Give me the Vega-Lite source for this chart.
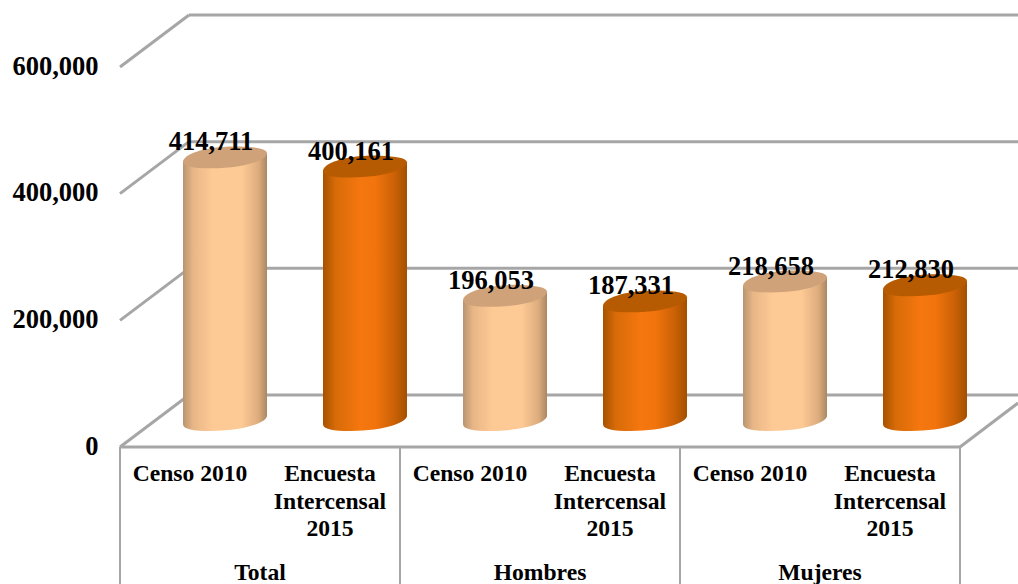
{
"$schema":"https://vega.github.io/schema/vega-lite/v6.json",
"autosize":"none","padding":{"left":120,"top":0,"right":0,"bottom":0},
"width":898,"height":584,"background":"white",
"config":{"view":{"stroke":null},"text":{"font":"Liberation Serif"}},
"datasets":{
"d":[
{"key":"Total Censo","group":"Total","serie":"Censo 2010","value":414711},
{"key":"Total Encuesta","group":"Total","serie":"Encuesta\nIntercensal\n2015","value":400161},
{"key":"Hombres Censo","group":"Hombres","serie":"Censo 2010","value":196053},
{"key":"Hombres Encuesta","group":"Hombres","serie":"Encuesta\nIntercensal\n2015","value":187331},
{"key":"Mujeres Censo","group":"Mujeres","serie":"Censo 2010","value":218658},
{"key":"Mujeres Encuesta","group":"Mujeres","serie":"Encuesta\nIntercensal\n2015","value":212830}],
"t":[{"v":0},{"v":200000},{"v":400000},{"v":600000}]
},
"layer":[
{"data":{"name":"t"},"mark":{"type":"rule","color":"#A6A6A6","strokeWidth":3,"yOffset":-52,"y2Offset":-52},
 "encoding":{"y":{"field":"v","type":"quantitative","scale":{"domain":[0,600000],"range":[447,67],"nice":false,"zero":false},
   "axis":{"values":[0,200000,400000,600000],"format":",d","domain":false,"ticks":false,"grid":false,"title":null,"labelPadding":22,"labelOffset":-1,"labelFont":"Liberation Serif","labelFontWeight":"bold","labelFontSize":26.5,"labelColor":"black"}},
  "x":{"value":69},"x2":{"value":898}}},
{"data":{"name":"t"},"mark":{"type":"rule","color":"#A6A6A6","strokeWidth":3,"y2Offset":-52},
 "encoding":{"y":{"field":"v","type":"quantitative"},"y2":{"field":"v"},"x":{"value":0},"x2":{"value":69}}},
{"data":{"values":[{"v":0}]},"mark":{"type":"rule","color":"#A6A6A6","strokeWidth":3,"y2Offset":-44},
 "encoding":{"y":{"field":"v","type":"quantitative"},"y2":{"field":"v"},"x":{"value":840},"x2":{"value":898}}},
{"data":{"values":[{"v":0}]},"mark":{"type":"rule","color":"#A6A6A6","strokeWidth":3},
 "encoding":{"y":{"field":"v","type":"quantitative"},"x":{"value":0},"x2":{"value":840}}},
{"data":{"values":[{"k":"Total Censo"},{"k":"Hombres Censo"},{"k":"Mujeres Censo"}]},"mark":{"type":"rule","color":"#A6A6A6","strokeWidth":2},
 "encoding":{"x":{"field":"k","type":"nominal","bandPosition":0,"axis":null,"scale":{"type":"band","domain":["Total Censo","Total Encuesta","Hombres Censo","Hombres Encuesta","Mujeres Censo","Mujeres Encuesta"],"range":[0,840],"padding":0}},"y":{"value":447},"y2":{"value":584}}},
{"data":{"values":[{"k":"Mujeres Encuesta"}]},"mark":{"type":"rule","color":"#A6A6A6","strokeWidth":2},
 "encoding":{"x":{"field":"k","type":"nominal","bandPosition":1,"axis":null},"y":{"value":447},"y2":{"value":584}}},

{"data":{"name":"d"},"transform":[{"filter":"datum.serie=='Censo 2010'"}],
 "layer":[
 {"mark":{"type":"bar","size":84,"xOffset":35,"yOffset":-22,"y2Offset":-32,
   "fill":{"gradient":"linear","x1":0,"y1":0,"x2":1,"y2":0,"stops":[{"offset":0,"color":"#B8946F"},{"offset":0.12,"color":"#E8B687"},{"offset":0.35,"color":"#FDC994"},{"offset":0.7,"color":"#FDC994"},{"offset":0.9,"color":"#DDAC7E"},{"offset":1,"color":"#A98762"}]}},
  "encoding":{"x":{"field":"key","type":"nominal","axis":null},"y":{"field":"value","type":"quantitative","stack":null},"y2":{"datum":0}}},
 {"mark":{"type":"point","shape":"M -1 0.1 C -1 -0.06 -0.5 -0.28 0.35 -0.26 C 0.75 -0.25 1 -0.2 1 -0.1 C 1 0.05 0.5 0.26 -0.35 0.26 C -0.75 0.26 -1 0.22 -1 0.1 Z M -1 -0.14 L 1 -0.14 L 1 -0.1 L -1 0.1 Z","filled":true,"size":7056,"opacity":1,"xOffset":35,"yOffset":-27,
   "fill":{"gradient":"linear","x1":0,"y1":0,"x2":1,"y2":0,"stops":[{"offset":0,"color":"#B8946F"},{"offset":0.12,"color":"#E8B687"},{"offset":0.35,"color":"#FDC994"},{"offset":0.7,"color":"#FDC994"},{"offset":0.9,"color":"#DDAC7E"},{"offset":1,"color":"#A98762"}]}},
  "encoding":{"x":{"field":"key","type":"nominal","axis":null},"y":{"datum":0,"type":"quantitative"}}},
 {"mark":{"type":"point","shape":"M -1 0.1 L 1 -0.1 L 1 0.14 L -1 0.14 Z","filled":true,"size":7056,"opacity":1,"xOffset":35,"yOffset":-27,
   "fill":{"gradient":"linear","x1":0,"y1":0,"x2":1,"y2":0,"stops":[{"offset":0,"color":"#B8946F"},{"offset":0.12,"color":"#E8B687"},{"offset":0.35,"color":"#FDC994"},{"offset":0.7,"color":"#FDC994"},{"offset":0.9,"color":"#DDAC7E"},{"offset":1,"color":"#A98762"}]}},
  "encoding":{"x":{"field":"key","type":"nominal","axis":null},"y":{"field":"value","type":"quantitative"}}},
 {"mark":{"type":"point","shape":"M -1 0.1 C -1 -0.06 -0.5 -0.28 0.35 -0.26 C 0.75 -0.25 1 -0.2 1 -0.1 C 1 0.05 0.5 0.26 -0.35 0.26 C -0.75 0.26 -1 0.22 -1 0.1 Z","filled":true,"size":7056,"opacity":1,"xOffset":35,"yOffset":-27,"fill":"#CFA27A"},
  "encoding":{"x":{"field":"key","type":"nominal","axis":null},"y":{"field":"value","type":"quantitative"}}}
 ]},
{"data":{"name":"d"},"transform":[{"filter":"datum.serie!='Censo 2010'"}],
 "layer":[
 {"mark":{"type":"bar","size":84,"xOffset":35,"yOffset":-22,"y2Offset":-32,
   "fill":{"gradient":"linear","x1":0,"y1":0,"x2":1,"y2":0,"stops":[{"offset":0,"color":"#A55200"},{"offset":0.15,"color":"#D86B08"},{"offset":0.45,"color":"#F5770F"},{"offset":0.62,"color":"#F2740D"},{"offset":0.85,"color":"#CB6106"},{"offset":1,"color":"#A35000"}]}},
  "encoding":{"x":{"field":"key","type":"nominal","axis":null},"y":{"field":"value","type":"quantitative","stack":null},"y2":{"datum":0}}},
 {"mark":{"type":"point","shape":"M -1 0.1 C -1 -0.06 -0.5 -0.28 0.35 -0.26 C 0.75 -0.25 1 -0.2 1 -0.1 C 1 0.05 0.5 0.26 -0.35 0.26 C -0.75 0.26 -1 0.22 -1 0.1 Z M -1 -0.14 L 1 -0.14 L 1 -0.1 L -1 0.1 Z","filled":true,"size":7056,"opacity":1,"xOffset":35,"yOffset":-27,
   "fill":{"gradient":"linear","x1":0,"y1":0,"x2":1,"y2":0,"stops":[{"offset":0,"color":"#A55200"},{"offset":0.15,"color":"#D86B08"},{"offset":0.45,"color":"#F5770F"},{"offset":0.62,"color":"#F2740D"},{"offset":0.85,"color":"#CB6106"},{"offset":1,"color":"#A35000"}]}},
  "encoding":{"x":{"field":"key","type":"nominal","axis":null},"y":{"datum":0,"type":"quantitative"}}},
 {"mark":{"type":"point","shape":"M -1 0.1 L 1 -0.1 L 1 0.14 L -1 0.14 Z","filled":true,"size":7056,"opacity":1,"xOffset":35,"yOffset":-27,
   "fill":{"gradient":"linear","x1":0,"y1":0,"x2":1,"y2":0,"stops":[{"offset":0,"color":"#A55200"},{"offset":0.15,"color":"#D86B08"},{"offset":0.45,"color":"#F5770F"},{"offset":0.62,"color":"#F2740D"},{"offset":0.85,"color":"#CB6106"},{"offset":1,"color":"#A35000"}]}},
  "encoding":{"x":{"field":"key","type":"nominal","axis":null},"y":{"field":"value","type":"quantitative"}}},
 {"mark":{"type":"point","shape":"M -1 0.1 C -1 -0.06 -0.5 -0.28 0.35 -0.26 C 0.75 -0.25 1 -0.2 1 -0.1 C 1 0.05 0.5 0.26 -0.35 0.26 C -0.75 0.26 -1 0.22 -1 0.1 Z","filled":true,"size":7056,"opacity":1,"xOffset":35,"yOffset":-27,"fill":"#B75B02"},
  "encoding":{"x":{"field":"key","type":"nominal","axis":null},"y":{"field":"value","type":"quantitative"}}}
 ]},

{"data":{"name":"d"},"mark":{"type":"text","font":"Liberation Serif","fontWeight":"bold","fontSize":26.5,"color":"black","align":"center","baseline":"middle","xOffset":21,"yOffset":-42},
 "encoding":{"x":{"field":"key","type":"nominal","axis":null},"y":{"field":"value","type":"quantitative"},"text":{"field":"value","type":"quantitative","format":",d"}}},
{"data":{"name":"d"},"mark":{"type":"text","font":"Liberation Serif","fontWeight":"bold","fontSize":23.6,"color":"black","align":"center","baseline":"alphabetic","lineBreak":"\n","lineHeight":27.5},
 "encoding":{"x":{"field":"key","type":"nominal","axis":null},"y":{"value":481},"text":{"field":"serie","type":"nominal"}}},
{"data":{"name":"d"},"transform":[{"filter":"datum.serie=='Censo 2010'"}],"mark":{"type":"text","font":"Liberation Serif","fontWeight":"bold","fontSize":23.6,"color":"black","align":"center","baseline":"alphabetic","dx":70},
 "encoding":{"x":{"field":"key","type":"nominal","axis":null},"y":{"value":580},"text":{"field":"group","type":"nominal"}}}
]
}
